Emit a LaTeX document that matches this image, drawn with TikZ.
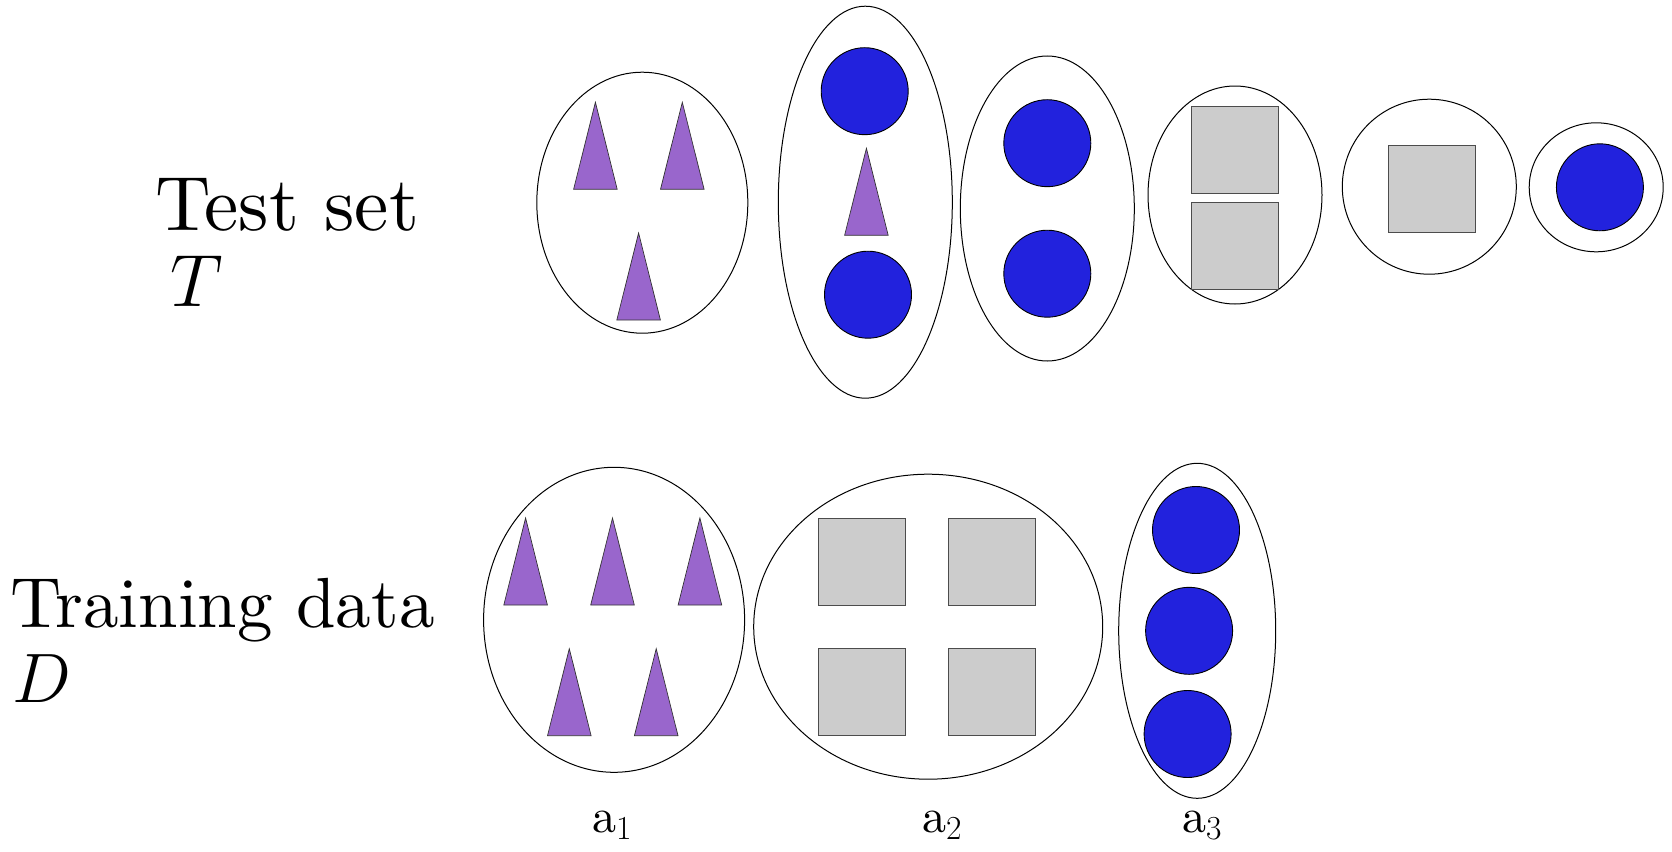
\RequirePackage{fix-cm}
\documentclass[tikz,border=0pt]{standalone}
\usepackage{fontspec}
\setmainfont{lmroman10-regular}[Extension=.otf, ItalicFont=lmroman10-italic]
\usepackage{tikz}
\usetikzlibrary{shapes.geometric, positioning}
\definecolor{dotblue}{RGB}{34,34,221}
\definecolor{tripurple}{RGB}{153,102,204}
\definecolor{boxgray}{RGB}{204,204,204}
\tikzset{
  grp/.style={ellipse, draw=black, line width=1pt, inner sep=0pt},
  bluedot/.style={circle, draw=black, fill=dotblue, minimum size=87pt,
    inner sep=0pt, line width=0.9pt},
  graybox/.style={rectangle, draw=black!70, fill=boxgray, minimum size=87pt,
    inner sep=0pt, line width=0.9pt},
  purpletri/.pic={\draw[draw=black!80, fill=tripurple, line width=0.7pt]
    (-21.8,0) -- (0,-87) -- (21.8,0) -- cycle;},
  setname/.style={anchor=base west, inner sep=0pt,
    font=\fontsize{#1}{#1}\selectfont},
  attrname/.style={anchor=base west, inner sep=0pt,
    font=\fontsize{48}{52}\selectfont}
}

\begin{document}
\begin{tikzpicture}[x=1pt, y=-1pt]
  \useasboundingbox (0,0) rectangle (1672,851);

  % names of the two sets
  \node[setname=77] (testname) at (155,230) {Test set};
  \node[setname=74] (testsym) at (170,306) {$T$};
  \node[setname=71] (trainname) at (10,627) {Training data};
  \node[setname=70] (trainsym) at (12,702) {$D$};

  % test set T
  \node[grp, minimum width=211, minimum height=261] (tgrpA) at (642.3,202.7) {};
  \pic at (595.4,189.3) {purpletri};
  \pic at (682.3,189.3) {purpletri};
  \pic at (638.6,320) {purpletri};

  \node[grp, minimum width=174, minimum height=392] (tgrpB) at (865.3,202.2) {};
  \node[bluedot] (tdotB1) at (864.7,91.2) {};
  \pic at (866.4,235.3) {purpletri};
  \node[bluedot] (tdotB2) at (868,294.7) {};

  \node[grp, minimum width=174, minimum height=305] (tgrpC) at (1047.3,208.5) {};
  \node[bluedot] (tdotC1) at (1047.3,143.2) {};
  \node[bluedot] (tdotC2) at (1047.3,273.7) {};

  \node[grp, minimum width=174, minimum height=218] (tgrpD) at (1235,195) {};
  \node[graybox] (tboxD1) at (1235,150.3) {};
  \node[graybox] (tboxD2) at (1235,246.3) {};

  \node[grp, minimum width=174, minimum height=175] (tgrpE) at (1429.3,186.7) {};
  \node[graybox] (tboxE) at (1431.7,189) {};

  \node[grp, minimum width=134, minimum height=129] (tgrpF) at (1596.2,187.3) {};
  \node[bluedot] (tdotF) at (1599.9,187.3) {};

  % training data D
  \node[grp, minimum width=261, minimum height=305] (dgrpA) at (614.1,619.8) {};
  \pic at (525.6,605) {purpletri};
  \pic at (612.5,605) {purpletri};
  \pic at (699.9,605) {purpletri};
  \pic at (569.3,735.7) {purpletri};
  \pic at (656.2,735.7) {purpletri};

  \node[grp, minimum width=349, minimum height=305] (dgrpB) at (928.2,626.7) {};
  \node[graybox] (dboxB1) at (861.6,561.8) {};
  \node[graybox] (dboxB2) at (992.2,561.8) {};
  \node[graybox] (dboxB3) at (861.6,692.2) {};
  \node[graybox] (dboxB4) at (992.2,692.2) {};

  \node[grp, minimum width=157, minimum height=335] (dgrpC) at (1197.2,630.8) {};
  \node[bluedot] (ddotC1) at (1196,530) {};
  \node[bluedot] (ddotC2) at (1189.1,630.8) {};
  \node[bluedot] (ddotC3) at (1187.6,734) {};

  % attribute values
  \node[attrname] (attrA) at (592,832) {a$_1$};
  \node[attrname] (attrB) at (922,832) {a$_2$};
  \node[attrname] (attrC) at (1182,832) {a$_3$};
\end{tikzpicture}
\end{document}
